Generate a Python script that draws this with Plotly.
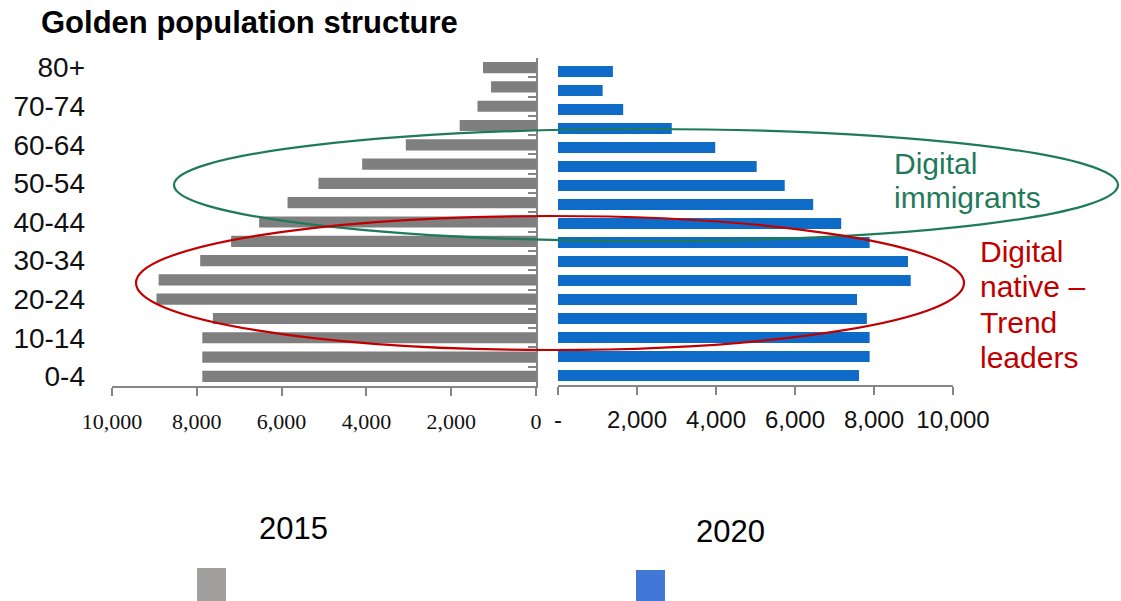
import plotly.graph_objects as go

# Age groups, youngest first (bottom of the pyramid)
ages = ["0-4", "5-9", "10-14", "15-19", "20-24", "25-29", "30-34", "35-39",
        "40-44", "45-49", "50-54", "55-59", "60-64", "65-69", "70-74", "75-79", "80+"]
labelled_ages = ["0-4", "10-14", "20-24", "30-34", "40-44", "50-54", "60-64", "70-74", "80+"]

pop_2015 = [7870, 7870, 7870, 7620, 8950, 8900, 7920, 7190, 6530,
            5860, 5130, 4100, 3070, 1800, 1380, 1060, 1250]
pop_2020 = [7620, 7890, 7890, 7820, 7570, 8930, 8860, 7890, 7170,
            6460, 5740, 5030, 3980, 2880, 1650, 1130, 1390]

x_ticks = [0, 2000, 4000, 6000, 8000, 10000]
left_tick_text = ["0", "2,000", "4,000", "6,000", "8,000", "10,000"]
right_tick_text = ["-", "2,000", "4,000", "6,000", "8,000", "10,000"]

W, H = 1121, 601


def px(x):
    return x / W


def py(y):
    return 1 - y / H


AXIS_GREY = "#858585"
GREEN = "#1F7A5A"
RED = "#C00000"
SANS = "Liberation Sans, Arial, sans-serif"
SERIF = "Liberation Serif, Times New Roman, serif"

fig = go.Figure()

fig.add_trace(go.Bar(
    x=pop_2015, y=ages, orientation="h", xaxis="x", yaxis="y",
    marker=dict(color="#7F7F7F", line=dict(width=0)), width=0.58,
    name="2015", showlegend=False,
))
# invisible companion trace so the zero-line axis carries the categories
fig.add_trace(go.Scatter(
    x=[0] * len(ages), y=ages, xaxis="x", yaxis="y3", mode="markers",
    marker=dict(opacity=0), hoverinfo="skip", showlegend=False,
))
fig.add_trace(go.Bar(
    x=pop_2020, y=ages, orientation="h", xaxis="x2", yaxis="y2",
    marker=dict(color="#0E6CC8", line=dict(width=0)), width=0.58,
    name="2020", showlegend=False,
))

cat_range = [-0.5, len(ages) - 0.5]

fig.update_layout(
    width=W, height=H, autosize=False,
    margin=dict(l=0, r=0, t=0, b=0, autoexpand=False),
    paper_bgcolor="white", plot_bgcolor="white",
    xaxis=dict(
        domain=[px(112), px(536)], range=[10000, 0], anchor="y",
        tickvals=x_ticks, ticktext=left_tick_text,
        tickfont=dict(family=SERIF, size=22, color="#111111"),
        ticklabelstandoff=7,
        showline=True, linecolor=AXIS_GREY, linewidth=1.5,
        ticks="outside", ticklen=8, tickcolor=AXIS_GREY, tickwidth=1.5,
        showgrid=False, zeroline=False, fixedrange=True, automargin=False,
    ),
    yaxis=dict(
        domain=[py(386), py(58)], anchor="x", type="category",
        categoryorder="array", categoryarray=ages, range=cat_range,
        tickvals=labelled_ages, ticktext=labelled_ages,
        tickfont=dict(family=SANS, size=28, color="#111111"),
        ticks="", ticklabelstandoff=26,
        showline=False, showgrid=False, zeroline=False, fixedrange=True,
        automargin=False,
    ),
    yaxis3=dict(
        overlaying="y", anchor="x", side="right", type="category",
        categoryorder="array", categoryarray=ages, range=cat_range,
        showticklabels=False, tickson="boundaries",
        ticks="inside", ticklen=8, tickcolor=AXIS_GREY, tickwidth=1.5,
        showline=True, linecolor=AXIS_GREY, linewidth=1.5,
        showgrid=False, zeroline=False, fixedrange=True, automargin=False,
    ),
    xaxis2=dict(
        domain=[px(558), px(953)], range=[0, 10000], anchor="y2",
        tickvals=x_ticks, ticktext=right_tick_text,
        tickfont=dict(family=SANS, size=24, color="#111111"),
        ticklabelstandoff=4,
        showline=True, linecolor=AXIS_GREY, linewidth=1.5,
        ticks="outside", ticklen=8, tickcolor=AXIS_GREY, tickwidth=1.5,
        showgrid=False, zeroline=False, fixedrange=True, automargin=False,
    ),
    yaxis2=dict(
        domain=[py(385), py(62)], anchor="x2", type="category",
        categoryorder="array", categoryarray=ages, range=cat_range,
        showticklabels=False, ticks="", showline=False,
        showgrid=False, zeroline=False, fixedrange=True, automargin=False,
    ),
)

# Generation highlights
fig.add_shape(type="circle", xref="paper", yref="paper",
              x0=px(174), x1=px(1118), y0=py(241), y1=py(129),
              line=dict(color=GREEN, width=2.2), layer="above")
fig.add_shape(type="circle", xref="paper", yref="paper",
              x0=px(136), x1=px(964), y0=py(350), y1=py(216),
              line=dict(color=RED, width=2.2), layer="above")


def text(x, y, s, size, color="#000000", xanchor="left", bold=False):
    fig.add_annotation(
        x=px(x), y=py(y), xref="paper", yref="paper",
        text=f"<b>{s}</b>" if bold else s, showarrow=False,
        xanchor=xanchor, yanchor="middle",
        font=dict(family=SANS, size=size, color=color),
    )


text(39, 23, "Golden population structure", 31, bold=True)

for i, line in enumerate(["Digital", "immigrants"]):
    text(892, 163 + 35 * i, line, 30, GREEN)
for i, line in enumerate(["Digital", "native \u2013", "Trend", "leaders"]):
    text(978, 251 + 35.5 * i, line, 30, RED)

# Series key: year label above a colour swatch
text(293, 528, "2015", 31, xanchor="center")
text(730, 531, "2020", 31, xanchor="center")
fig.add_shape(type="rect", xref="paper", yref="paper",
              x0=px(197), x1=px(226), y0=py(601), y1=py(568),
              fillcolor="#A09F9D", line=dict(width=0))
fig.add_shape(type="rect", xref="paper", yref="paper",
              x0=px(636), x1=px(665), y0=py(601), y1=py(570),
              fillcolor="#4177D6", line=dict(width=0))

fig.write_html("out.html")
